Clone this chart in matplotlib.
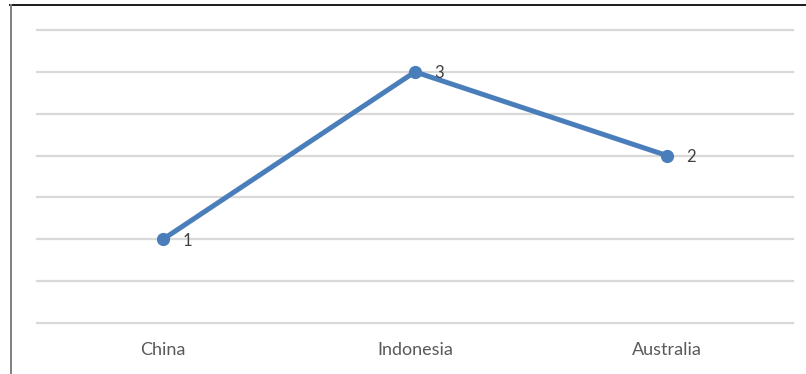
import matplotlib
matplotlib.use('Agg')
import matplotlib.pyplot as plt
from matplotlib.lines import Line2D

countries = ['China', 'Indonesia', 'Australia']
values = [1, 3, 2]
grid_levels = [0, 0.5, 1, 1.5, 2, 2.5, 3, 3.5]

W, H = 806, 374
fig = plt.figure(figsize=(W / 100, H / 100), dpi=100)
fig.patch.set_facecolor('white')

# plot area in pixel terms: x 37..793, y 30..323
ax = fig.add_axes([37 / W, 1 - 323 / H, (793 - 37) / W, (323 - 30) / H])
ax.set_xlim(-0.5, len(countries) - 0.5)
ax.set_ylim(0, 3.5)

for g in grid_levels:
    ax.axhline(g, color='#d9d9d9', lw=1.6, zorder=1, clip_on=False)

x = list(range(len(countries)))
ax.plot(x, values, color='#4a7ebb', lw=3.6, marker='o', ms=8.5,
        solid_capstyle='round', zorder=3, clip_on=False)

for xi, v in zip(x, values):
    ax.annotate(str(v), (xi, v), xytext=(14, -1), textcoords='offset points',
                ha='left', va='center', fontsize=12, color='#404040',
                family='Lato')

ax.set_xticks(x)
ax.set_xticklabels(countries, fontsize=13, color='#595959', family='Lato')
ax.tick_params(axis='x', length=0, pad=13.5)
ax.set_yticks([])
for s in ax.spines.values():
    s.set_visible(False)
ax.patch.set_alpha(0)

# outer frame: dark top edge and grey left edge
fig.add_artist(Line2D([10 / W, 1], [1 - 4.5 / H, 1 - 4.5 / H],
                      transform=fig.transFigure, color='#1a1a1a', lw=1.4))
fig.add_artist(Line2D([11 / W, 11 / W], [0, 1 - 4.5 / H],
                      transform=fig.transFigure, color='#7f7f7f', lw=1.4))

fig.savefig('out.png', dpi=100)
